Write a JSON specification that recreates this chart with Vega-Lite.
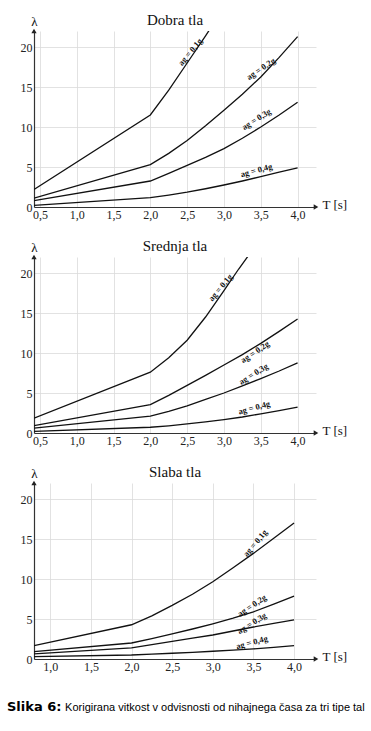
{
  "$schema": "https://vega.github.io/schema/vega-lite/v6.json",
  "padding": {"left": 7, "top": 13, "right": 5, "bottom": 5},
  "background": "white",
  "bounds": "flush",
  "spacing": 50,
  "title": {
    "text": "Slika 6:",
    "subtitle": "\u200b\u00a0\u00a0\u00a0\u00a0\u00a0\u00a0\u00a0\u00a0\u00a0\u00a0\u00a0\u00a0\u00a0\u00a0\u00a0\u00a0\u00a0\u00a0\u00a0Korigirana vitkost v odvisnosti od nihajnega časa za tri tipe tal",
    "orient": "bottom",
    "anchor": "start",
    "baseline": "alphabetic",
    "font": "DejaVu Sans",
    "fontSize": 13,
    "fontWeight": "bold",
    "color": "#000",
    "subtitleFont": "Liberation Sans",
    "subtitleFontSize": 11,
    "subtitleFontWeight": "normal",
    "subtitleColor": "#000",
    "subtitlePadding": -13,
    "offset": 39,
    "dx": -13
  },
  "datasets": {
    "dobra": [
      {"T": 0.42, "lam": 2.2, "g": 0.1}, {"T": 2.0, "lam": 11.5, "g": 0.1}, {"T": 2.25, "lam": 14.6, "g": 0.1}, {"T": 2.5, "lam": 18.0, "g": 0.1}, {"T": 2.75, "lam": 21.4, "g": 0.1}, {"T": 2.8, "lam": 22.1, "g": 0.1},
      {"T": 0.42, "lam": 1.1, "g": 0.2}, {"T": 2.0, "lam": 5.3, "g": 0.2}, {"T": 2.25, "lam": 6.7, "g": 0.2}, {"T": 2.5, "lam": 8.3, "g": 0.2}, {"T": 2.75, "lam": 10.15, "g": 0.2}, {"T": 3.0, "lam": 12.1, "g": 0.2}, {"T": 3.25, "lam": 14.1, "g": 0.2}, {"T": 3.5, "lam": 16.25, "g": 0.2}, {"T": 3.75, "lam": 18.7, "g": 0.2}, {"T": 4.0, "lam": 21.3, "g": 0.2},
      {"T": 0.42, "lam": 0.8, "g": 0.3}, {"T": 2.0, "lam": 3.25, "g": 0.3}, {"T": 2.25, "lam": 4.2, "g": 0.3}, {"T": 2.5, "lam": 5.2, "g": 0.3}, {"T": 2.75, "lam": 6.2, "g": 0.3}, {"T": 3.0, "lam": 7.3, "g": 0.3}, {"T": 3.25, "lam": 8.6, "g": 0.3}, {"T": 3.5, "lam": 10.0, "g": 0.3}, {"T": 3.75, "lam": 11.5, "g": 0.3}, {"T": 4.0, "lam": 13.1, "g": 0.3},
      {"T": 0.42, "lam": 0.2, "g": 0.4}, {"T": 2.0, "lam": 1.16, "g": 0.4}, {"T": 2.25, "lam": 1.48, "g": 0.4}, {"T": 2.5, "lam": 1.85, "g": 0.4}, {"T": 2.75, "lam": 2.28, "g": 0.4}, {"T": 3.0, "lam": 2.75, "g": 0.4}, {"T": 3.25, "lam": 3.25, "g": 0.4}, {"T": 3.5, "lam": 3.8, "g": 0.4}, {"T": 3.75, "lam": 4.35, "g": 0.4}, {"T": 4.0, "lam": 4.9, "g": 0.4}
    ],
    "dobra_lbl": [
      {"T": 2.54, "lam": 19.4, "g": 0.1, "label": "ag = 0,1g"},
      {"T": 3.5, "lam": 17.3, "g": 0.2, "label": "ag = 0,2g"},
      {"T": 3.44, "lam": 11.0, "g": 0.3, "label": "ag = 0,3g"},
      {"T": 3.44, "lam": 4.6, "g": 0.4, "label": "ag = 0,4g"}
    ],
    "srednja": [
      {"T": 0.42, "lam": 1.85, "g": 0.1}, {"T": 2.0, "lam": 7.6, "g": 0.1}, {"T": 2.25, "lam": 9.4, "g": 0.1}, {"T": 2.5, "lam": 11.6, "g": 0.1}, {"T": 2.75, "lam": 14.5, "g": 0.1}, {"T": 3.0, "lam": 17.8, "g": 0.1}, {"T": 3.2, "lam": 20.5, "g": 0.1}, {"T": 3.35, "lam": 22.4, "g": 0.1},
      {"T": 0.42, "lam": 0.92, "g": 0.2}, {"T": 2.0, "lam": 3.56, "g": 0.2}, {"T": 2.25, "lam": 4.7, "g": 0.2}, {"T": 2.5, "lam": 5.95, "g": 0.2}, {"T": 2.75, "lam": 7.2, "g": 0.2}, {"T": 3.0, "lam": 8.5, "g": 0.2}, {"T": 3.25, "lam": 9.8, "g": 0.2}, {"T": 3.5, "lam": 11.2, "g": 0.2}, {"T": 3.75, "lam": 12.7, "g": 0.2}, {"T": 4.0, "lam": 14.25, "g": 0.2},
      {"T": 0.42, "lam": 0.6, "g": 0.3}, {"T": 2.0, "lam": 2.1, "g": 0.3}, {"T": 2.25, "lam": 2.7, "g": 0.3}, {"T": 2.5, "lam": 3.4, "g": 0.3}, {"T": 2.75, "lam": 4.2, "g": 0.3}, {"T": 3.0, "lam": 5.0, "g": 0.3}, {"T": 3.25, "lam": 5.9, "g": 0.3}, {"T": 3.5, "lam": 6.8, "g": 0.3}, {"T": 3.75, "lam": 7.75, "g": 0.3}, {"T": 4.0, "lam": 8.77, "g": 0.3},
      {"T": 0.42, "lam": 0.2, "g": 0.4}, {"T": 2.0, "lam": 0.72, "g": 0.4}, {"T": 2.25, "lam": 0.9, "g": 0.4}, {"T": 2.5, "lam": 1.13, "g": 0.4}, {"T": 2.75, "lam": 1.38, "g": 0.4}, {"T": 3.0, "lam": 1.67, "g": 0.4}, {"T": 3.25, "lam": 2.0, "g": 0.4}, {"T": 3.5, "lam": 2.4, "g": 0.4}, {"T": 3.75, "lam": 2.8, "g": 0.4}, {"T": 4.0, "lam": 3.23, "g": 0.4}
    ],
    "srednja_lbl": [
      {"T": 2.95, "lam": 18.2, "g": 0.1, "label": "ag = 0,1g"},
      {"T": 3.42, "lam": 10.15, "g": 0.2, "label": "ag = 0,2g"},
      {"T": 3.4, "lam": 7.4, "g": 0.3, "label": "ag = 0,3g"},
      {"T": 3.41, "lam": 3.2, "g": 0.4, "label": "ag = 0,4g"}
    ],
    "slaba": [
      {"T": 0.8, "lam": 1.68, "g": 0.1}, {"T": 2.0, "lam": 4.28, "g": 0.1}, {"T": 2.25, "lam": 5.4, "g": 0.1}, {"T": 2.5, "lam": 6.7, "g": 0.1}, {"T": 2.75, "lam": 8.1, "g": 0.1}, {"T": 3.0, "lam": 9.65, "g": 0.1}, {"T": 3.25, "lam": 11.4, "g": 0.1}, {"T": 3.5, "lam": 13.2, "g": 0.1}, {"T": 3.75, "lam": 15.1, "g": 0.1}, {"T": 4.0, "lam": 17.0, "g": 0.1},
      {"T": 0.8, "lam": 0.93, "g": 0.2}, {"T": 2.0, "lam": 2.0, "g": 0.2}, {"T": 2.25, "lam": 2.55, "g": 0.2}, {"T": 2.5, "lam": 3.15, "g": 0.2}, {"T": 2.75, "lam": 3.75, "g": 0.2}, {"T": 3.0, "lam": 4.4, "g": 0.2}, {"T": 3.25, "lam": 5.1, "g": 0.2}, {"T": 3.5, "lam": 5.9, "g": 0.2}, {"T": 3.75, "lam": 6.85, "g": 0.2}, {"T": 4.0, "lam": 7.85, "g": 0.2},
      {"T": 0.8, "lam": 0.63, "g": 0.3}, {"T": 2.0, "lam": 1.4, "g": 0.3}, {"T": 2.25, "lam": 1.8, "g": 0.3}, {"T": 2.5, "lam": 2.2, "g": 0.3}, {"T": 2.75, "lam": 2.6, "g": 0.3}, {"T": 3.0, "lam": 3.0, "g": 0.3}, {"T": 3.25, "lam": 3.5, "g": 0.3}, {"T": 3.5, "lam": 4.0, "g": 0.3}, {"T": 3.75, "lam": 4.45, "g": 0.3}, {"T": 4.0, "lam": 4.9, "g": 0.3},
      {"T": 0.8, "lam": 0.3, "g": 0.4}, {"T": 2.0, "lam": 0.5, "g": 0.4}, {"T": 2.25, "lam": 0.6, "g": 0.4}, {"T": 2.5, "lam": 0.72, "g": 0.4}, {"T": 2.75, "lam": 0.84, "g": 0.4}, {"T": 3.0, "lam": 0.97, "g": 0.4}, {"T": 3.25, "lam": 1.1, "g": 0.4}, {"T": 3.5, "lam": 1.26, "g": 0.4}, {"T": 3.75, "lam": 1.45, "g": 0.4}, {"T": 4.0, "lam": 1.68, "g": 0.4}
    ],
    "slaba_lbl": [
      {"T": 3.52, "lam": 14.5, "g": 0.1, "label": "ag = 0,1g"},
      {"T": 3.48, "lam": 6.7, "g": 0.2, "label": "ag = 0,2g"},
      {"T": 3.48, "lam": 4.5, "g": 0.3, "label": "ag = 0,3g"},
      {"T": 3.48, "lam": 2.1, "g": 0.4, "label": "ag = 0,4g"}
    ]
  },
  "vconcat": [
    {
      "title": {"text": "Dobra tla", "font": "Liberation Serif", "fontSize": 15, "fontWeight": "normal", "color": "#111", "anchor": "middle", "frame": "group", "baseline": "alphabetic", "offset": -25},
      "width": 282,
      "height": 176,
      "layer": [
        {
          "data": {"name": "dobra"},
          "mark": {"type": "line", "color": "#111", "strokeWidth": 1.3, "interpolate": "linear", "clip": true},
          "encoding": {
            "x": {"field": "T", "type": "quantitative", "scale": {"domain": [0.42, 4.25], "nice": false, "zero": false},
              "axis": {"values": [0.5, 1, 1.5, 2, 2.5, 3, 3.5, 4], "labelExpr": "replace(format(datum.value,'.1f'),'.',',')", "title": "T [s]", "titleX": 288, "titleY": -3, "titleAlign": "left", "titleBaseline": "middle", "grid": true}},
            "y": {"field": "lam", "type": "quantitative", "scale": {"domain": [0, 22], "nice": false},
              "axis": {"values": [0, 5, 10, 15, 20], "title": "λ", "titleAngle": 0, "titleX": 0, "titleY": -6, "titleAlign": "center", "titleBaseline": "alphabetic", "grid": true}},
            "detail": {"field": "g", "type": "nominal"}
          }
        },
        {
          "data": {"name": "dobra_lbl"},
          "mark": {"type": "text", "font": "Liberation Serif", "fontSize": 8.5, "fontWeight": "bold", "color": "#111"},
          "encoding": {
            "x": {"field": "T", "type": "quantitative"},
            "y": {"field": "lam", "type": "quantitative"},
            "text": {"field": "label"},
            "angle": {"field": "g", "type": "quantitative", "scale": {"type": "threshold", "domain": [0.15, 0.25, 0.35], "range": [-50, -34, -32, -15]}, "legend": null}
          }
        },
        {
          "data": {"values": [{}]},
          "mark": {"type": "point", "shape": "triangle-right", "filled": true, "color": "#222", "opacity": 1, "size": 28},
          "encoding": {"x": {"datum": 4.25}, "y": {"datum": 0}}
        },
        {
          "data": {"values": [{}]},
          "mark": {"type": "point", "shape": "triangle-up", "filled": true, "color": "#222", "opacity": 1, "size": 28},
          "encoding": {"x": {"datum": 0.42}, "y": {"datum": 22}}
        }
      ]
    },
    {
      "title": {"text": "Srednja tla", "font": "Liberation Serif", "fontSize": 15, "fontWeight": "normal", "color": "#111", "anchor": "middle", "frame": "group", "baseline": "alphabetic", "offset": -25},
      "width": 282,
      "height": 176,
      "layer": [
        {
          "data": {"name": "srednja"},
          "mark": {"type": "line", "color": "#111", "strokeWidth": 1.3, "interpolate": "linear", "clip": true},
          "encoding": {
            "x": {"field": "T", "type": "quantitative", "scale": {"domain": [0.42, 4.25], "nice": false, "zero": false},
              "axis": {"values": [0.5, 1, 1.5, 2, 2.5, 3, 3.5, 4], "labelExpr": "replace(format(datum.value,'.1f'),'.',',')", "title": "T [s]", "titleX": 288, "titleY": -3, "titleAlign": "left", "titleBaseline": "middle", "grid": true}},
            "y": {"field": "lam", "type": "quantitative", "scale": {"domain": [0, 22], "nice": false},
              "axis": {"values": [0, 5, 10, 15, 20], "title": "λ", "titleAngle": 0, "titleX": 0, "titleY": -6, "titleAlign": "center", "titleBaseline": "alphabetic", "grid": true}},
            "detail": {"field": "g", "type": "nominal"}
          }
        },
        {
          "data": {"name": "srednja_lbl"},
          "mark": {"type": "text", "font": "Liberation Serif", "fontSize": 8.5, "fontWeight": "bold", "color": "#111"},
          "encoding": {
            "x": {"field": "T", "type": "quantitative"},
            "y": {"field": "lam", "type": "quantitative"},
            "text": {"field": "label"},
            "angle": {"field": "g", "type": "quantitative", "scale": {"type": "threshold", "domain": [0.15, 0.25, 0.35], "range": [-52, -33, -27, -12]}, "legend": null}
          }
        },
        {
          "data": {"values": [{}]},
          "mark": {"type": "point", "shape": "triangle-right", "filled": true, "color": "#222", "opacity": 1, "size": 28},
          "encoding": {"x": {"datum": 4.25}, "y": {"datum": 0}}
        },
        {
          "data": {"values": [{}]},
          "mark": {"type": "point", "shape": "triangle-up", "filled": true, "color": "#222", "opacity": 1, "size": 28},
          "encoding": {"x": {"datum": 0.42}, "y": {"datum": 22}}
        }
      ]
    },
    {
      "title": {"text": "Slaba tla", "font": "Liberation Serif", "fontSize": 15, "fontWeight": "normal", "color": "#111", "anchor": "middle", "frame": "group", "baseline": "alphabetic", "offset": -25},
      "width": 282,
      "height": 176,
      "layer": [
        {
          "data": {"name": "slaba"},
          "mark": {"type": "line", "color": "#111", "strokeWidth": 1.3, "interpolate": "linear", "clip": true},
          "encoding": {
            "x": {"field": "T", "type": "quantitative", "scale": {"domain": [0.8, 4.27], "nice": false, "zero": false},
              "axis": {"values": [1, 1.5, 2, 2.5, 3, 3.5, 4], "labelExpr": "replace(format(datum.value,'.1f'),'.',',')", "title": "T [s]", "titleX": 288, "titleY": -3, "titleAlign": "left", "titleBaseline": "middle", "grid": true}},
            "y": {"field": "lam", "type": "quantitative", "scale": {"domain": [0, 22], "nice": false},
              "axis": {"values": [0, 5, 10, 15, 20], "title": "λ", "titleAngle": 0, "titleX": 0, "titleY": -6, "titleAlign": "center", "titleBaseline": "alphabetic", "grid": true}},
            "detail": {"field": "g", "type": "nominal"}
          }
        },
        {
          "data": {"name": "slaba_lbl"},
          "mark": {"type": "text", "font": "Liberation Serif", "fontSize": 8.5, "fontWeight": "bold", "color": "#111"},
          "encoding": {
            "x": {"field": "T", "type": "quantitative"},
            "y": {"field": "lam", "type": "quantitative"},
            "text": {"field": "label"},
            "angle": {"field": "g", "type": "quantitative", "scale": {"type": "threshold", "domain": [0.15, 0.25, 0.35], "range": [-35, -15, -12, -8]}, "legend": null}
          }
        },
        {
          "data": {"values": [{}]},
          "mark": {"type": "point", "shape": "triangle-right", "filled": true, "color": "#222", "opacity": 1, "size": 28},
          "encoding": {"x": {"datum": 4.27}, "y": {"datum": 0}}
        },
        {
          "data": {"values": [{}]},
          "mark": {"type": "point", "shape": "triangle-up", "filled": true, "color": "#222", "opacity": 1, "size": 28},
          "encoding": {"x": {"datum": 0.8}, "y": {"datum": 22}}
        }
      ]
    }
  ],
  "config": {
    "view": {"stroke": null},
    "axis": {
      "labelFont": "Liberation Serif",
      "labelFontSize": 12,
      "labelColor": "#222",
      "titleFont": "Liberation Serif",
      "titleFontSize": 13,
      "titleFontWeight": "normal",
      "titleColor": "#111",
      "domainColor": "#333",
      "domainWidth": 1.2,
      "gridColor": "#dadada",
      "gridWidth": 0.8,
      "ticks": false,
      "labelPadding": 2,
      "labelOverlap": false,
      "labelFlush": false
    }
  }
}
